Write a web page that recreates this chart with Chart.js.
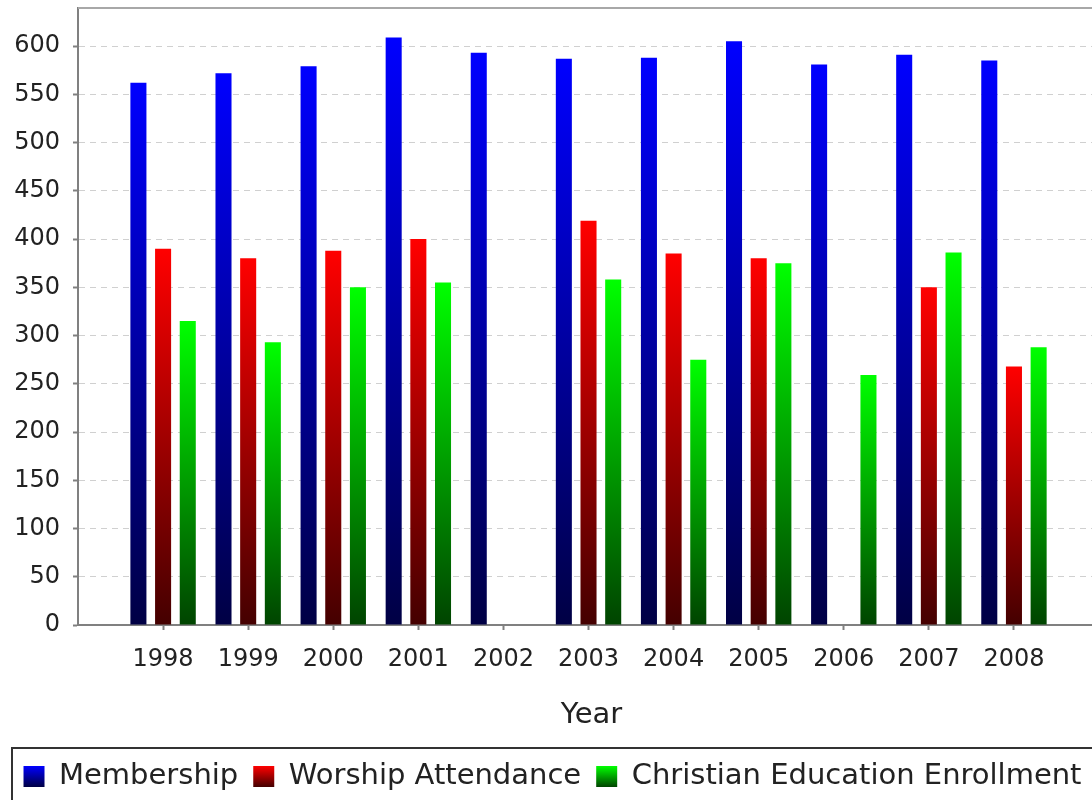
<!DOCTYPE html>
<html>
<head>
<meta charset="utf-8">
<script src="https://cdn.jsdelivr.net/npm/chart.js@4.4.1/dist/chart.umd.min.js"></script>
<style>
  html, body { margin: 0; padding: 0; background: #fff; overflow: hidden; }
  #wrap { position: relative; width: 1105px; height: 830px; }
</style>
</head>
<body>
<div id="wrap"><canvas id="chart"></canvas></div>
<script>
const years = ["1998", "1999", "2000", "2001", "2002", "2003", "2004", "2005", "2006", "2007", "2008"];
const membership = [562, 572, 579, 609, 593, 587, 588, 605, 581, 591, 585];
const worship = [390, 380, 388, 400, null, 419, 385, 380, null, 350, 268];
const education = [315, 293, 350, 355, null, 358, 275, 375, 259, 386, 288];
const yTicks = [0, 50, 100, 150, 200, 250, 300, 350, 400, 450, 500, 550, 600];

const FONT = "'DejaVu Sans', sans-serif";

// top colour -> bottom colour of each bar
const blue = ["#0000ff", "#000044"];
const red = ["#ff0000", "#440000"];
const green = ["#00ff00", "#004400"];

function barFill(cols) {
  return (c) => {
    const y = c.chart.scales.y;
    if (c.type !== "data" || !y || typeof c.raw !== "number") return cols[0];
    const y0 = y.getPixelForValue(c.raw);
    const y1 = y.getPixelForValue(0);
    if (!isFinite(y0) || !isFinite(y1) || y0 === y1) return cols[0];
    const g = c.chart.ctx.createLinearGradient(0, y0, 0, y1);
    g.addColorStop(0, cols[0]);
    g.addColorStop(1, cols[1]);
    return g;
  };
}

const series = [
  { label: "Membership", data: membership, cols: blue },
  { label: "Worship Attendance", data: worship, cols: red },
  { label: "Christian Education Enrollment", data: education, cols: green },
];

// gradient legend swatches + legend frame + plot top border
const decor = {
  id: "decor",
  beforeDraw(chart) {
    const lg = chart.legend;
    if (!lg || !lg.legendHitBoxes) return;
    lg.legendItems.forEach((it, i) => {
      const hb = lg.legendHitBoxes[i];
      if (!hb || !isFinite(hb.top)) return;
      const g = chart.ctx.createLinearGradient(0, hb.top + 4, 0, hb.top + hb.height - 4);
      g.addColorStop(0, series[i].cols[0]);
      g.addColorStop(1, series[i].cols[1]);
      it.fillStyle = g;
      it.lineWidth = 0;
    });
  },
  afterDraw(chart) {
    const ctx = chart.ctx;
    const a = chart.chartArea;
    ctx.save();
    ctx.strokeStyle = "#a8a8a8";
    ctx.lineWidth = 2;
    ctx.beginPath();
    ctx.moveTo(a.left, a.top);
    ctx.lineTo(chart.width, a.top);
    ctx.stroke();
    const hb = chart.legend.legendHitBoxes[0];
    ctx.strokeStyle = "#333";
    ctx.lineWidth = 2;
    ctx.strokeRect(12, hb.top - 14, chart.width, 200);
    ctx.restore();
  },
};

new Chart(document.getElementById("chart"), {
  type: "bar",
  data: {
    labels: years.map((y, i) => i),
    datasets: series.map(s => ({
      label: s.label,
      data: s.data,
      backgroundColor: barFill(s.cols),
      borderWidth: 0,
      categoryPercentage: 0.87,
      barPercentage: 0.65,
    })),
  },
  options: {
    responsive: true,
    maintainAspectRatio: false,
    animation: false,
    layout: { padding: { top: 8, left: 0, right: 0, bottom: 29 } },
    plugins: {
      tooltip: { enabled: false },
      legend: {
        position: "bottom",
        labels: {
          boxWidth: 21,
          boxHeight: 21,
          padding: 15,
          color: "#222",
          font: { family: FONT, size: 29 },
        },
      },
    },
    scales: {
      x: {
        type: "linear",
        offset: false,
        min: -1,
        max: 11.07,
        afterBuildTicks: (s) => { s.ticks = years.map((y, i) => ({ value: i })); },
        afterFit: (s) => { s.height = 122; s.paddingLeft = 0; s.paddingRight = 0; },
        ticks: {
          autoSkip: false,
          maxRotation: 0,
          padding: 15,
          color: "#222",
          font: { family: FONT, size: 24 },
          callback: (v) => years[v],
        },
        grid: { offset: false, drawOnChartArea: false, tickLength: 5, tickColor: "#808080", tickWidth: 2 },
        border: { color: "#808080", width: 2 },
        title: {
          display: true,
          text: "Year",
          color: "#222",
          font: { family: FONT, size: 29 },
          padding: { top: 4, bottom: 14 },
        },
      },
      y: {
        min: 0,
        max: 639.5,
        afterBuildTicks: (s) => { s.ticks = yTicks.map(v => ({ value: v })); },
        afterFit: (s) => { s.width = 78; s.paddingTop = 0; s.paddingBottom = 0; },
        ticks: {
          padding: 13,
          color: "#222",
          font: { family: FONT, size: 24 },
        },
        grid: { color: "#d0d0d0", lineWidth: 1, tickLength: 5, tickColor: "#808080", tickWidth: 2, tickBorderDash: [] },
        border: { color: "#808080", width: 2, dash: [6, 5] },
      },
    },
  },
  plugins: [decor],
});
</script>
</body>
</html>
